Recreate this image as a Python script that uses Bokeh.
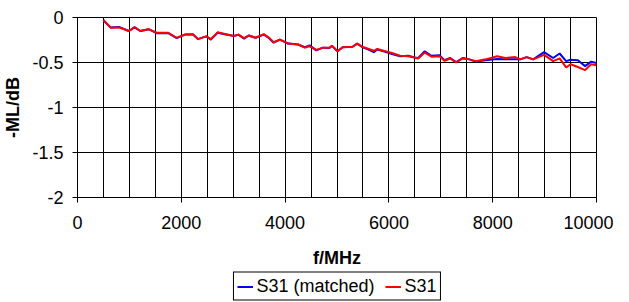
from bokeh.plotting import figure
from bokeh.layouts import column
from bokeh.models import Range1d, FixedTicker, CustomJSTickFormatter, Legend, LegendItem
from bokeh.embed import file_html
from bokeh.resources import INLINE

freq = [500, 640, 800, 990, 1100, 1210, 1370, 1530, 1750, 1910, 2070, 2225, 2320, 2480,
        2570, 2700, 2860, 3015, 3100, 3210, 3300, 3430, 3590, 3680, 3780, 3900, 4060,
        4250, 4380, 4475, 4600, 4730, 4855, 4905, 5010, 5110, 5300, 5390, 5490, 5585,
        5710, 5775, 5930, 6060, 6215, 6375, 6490, 6565, 6690, 6820, 6975, 7070, 7180,
        7295, 7420, 7515, 7675, 7865, 8085, 8245, 8435, 8530, 8655, 8780, 8990, 9165,
        9290, 9415, 9500, 9640, 9780, 9895, 10000]
s31_matched = [-0.03, -0.11, -0.105, -0.15, -0.11, -0.15, -0.13, -0.175, -0.175, -0.23,
               -0.19, -0.19, -0.24, -0.21, -0.245, -0.17, -0.19, -0.205, -0.19, -0.235,
               -0.2, -0.225, -0.19, -0.225, -0.28, -0.245, -0.29, -0.3, -0.33, -0.31,
               -0.365, -0.335, -0.34, -0.315, -0.375, -0.33, -0.325, -0.29, -0.33, -0.35,
               -0.385, -0.355, -0.38, -0.405, -0.43, -0.425, -0.445, -0.45, -0.375, -0.425,
               -0.42, -0.475, -0.45, -0.495, -0.45, -0.46, -0.49, -0.475, -0.46, -0.465,
               -0.465, -0.465, -0.44, -0.465, -0.385, -0.45, -0.40, -0.485, -0.47, -0.475,
               -0.54, -0.49, -0.505]
s31 = [-0.03, -0.115, -0.11, -0.15, -0.105, -0.15, -0.13, -0.17, -0.17, -0.225,
       -0.19, -0.185, -0.24, -0.21, -0.24, -0.165, -0.185, -0.205, -0.19, -0.23,
       -0.2, -0.225, -0.185, -0.22, -0.275, -0.245, -0.29, -0.3, -0.335, -0.32,
       -0.36, -0.335, -0.335, -0.315, -0.375, -0.33, -0.325, -0.29, -0.325, -0.345,
       -0.37, -0.35, -0.375, -0.395, -0.425, -0.43, -0.445, -0.455, -0.39, -0.435,
       -0.43, -0.48, -0.455, -0.5, -0.455, -0.46, -0.485, -0.465, -0.43, -0.45,
       -0.44, -0.465, -0.44, -0.465, -0.415, -0.485, -0.455, -0.555, -0.52, -0.55,
       -0.585, -0.52, -0.53]

x_ticks = [0, 2000, 4000, 6000, 8000, 10000]
x_minor = list(range(0, 10001, 500))
y_ticks = [-2, -1.5, -1, -0.5, 0]
series_names = ["S31 (matched)", "S31"]
series_colors = ["#0000FF", "#FF0000"]
series_values = [s31_matched, s31]

FONT = "Liberation Sans"

p = figure(width=613, height=270, output_backend="svg", toolbar_location=None,
           x_range=Range1d(0, 10000), y_range=Range1d(-2, 0),
           min_border_left=70, min_border_right=17, min_border_top=17, min_border_bottom=70)
p.background_fill_color = "white"
p.border_fill_color = "white"
p.outline_line_color = "black"
p.outline_line_width = 1

fmt = CustomJSTickFormatter(code="return tick.toString();")

xa = p.xaxis[0]
xa.ticker = FixedTicker(ticks=x_ticks, minor_ticks=x_minor)
xa.formatter = fmt
xa.axis_label = "f/MHz"
ya = p.yaxis[0]
ya.ticker = FixedTicker(ticks=y_ticks)
ya.formatter = fmt
ya.axis_label = "-ML/dB"

for ax in (xa, ya):
    ax.axis_line_color = "black"
    ax.major_tick_line_color = "black"
    ax.major_tick_out = 5
    ax.major_tick_in = 0
    ax.minor_tick_out = 0
    ax.minor_tick_in = 0
    ax.major_label_text_font = FONT
    ax.major_label_text_font_size = "18px"
    ax.major_label_text_color = "black"
    ax.axis_label_text_font = FONT
    ax.axis_label_text_font_size = "18px"
    ax.axis_label_text_font_style = "bold"
    ax.axis_label_text_color = "black"

xa.major_label_standoff = 13
xa.axis_label_standoff = 16
ya.major_label_standoff = 9
ya.axis_label_standoff = 6

p.xgrid.grid_line_color = "black"
p.xgrid.minor_grid_line_color = "black"
p.ygrid.grid_line_color = "black"

for ys, c in zip(series_values, series_colors):
    p.line(freq, ys, line_color=c, line_width=2)

# legend strip below the chart (same series, ranges keep them out of view)
lg = figure(width=613, height=32, output_backend="svg", toolbar_location=None,
            x_axis_type=None, y_axis_type=None, min_border=0,
            x_range=Range1d(0, 1), y_range=Range1d(0, 1))
lg.outline_line_color = None
lg.grid.visible = False
items = []
for n, ys, c in zip(series_names, series_values, series_colors):
    r = lg.line(freq, ys, line_color=c, line_width=2)
    items.append(LegendItem(label=n, renderers=[r]))
legend = Legend(items=items, orientation="horizontal", location="center",
                label_text_font=FONT, label_text_font_size="18px", label_text_color="black",
                label_height=16, glyph_width=16, glyph_height=14, label_standoff=4, spacing=10,
                padding=3, margin=0, border_line_color="black", border_line_width=1,
                border_line_alpha=1, background_fill_alpha=1)
lg.add_layout(legend, "center")

layout = column(p, lg, spacing=0)
open("out.html", "w").write(file_html(layout, INLINE))
